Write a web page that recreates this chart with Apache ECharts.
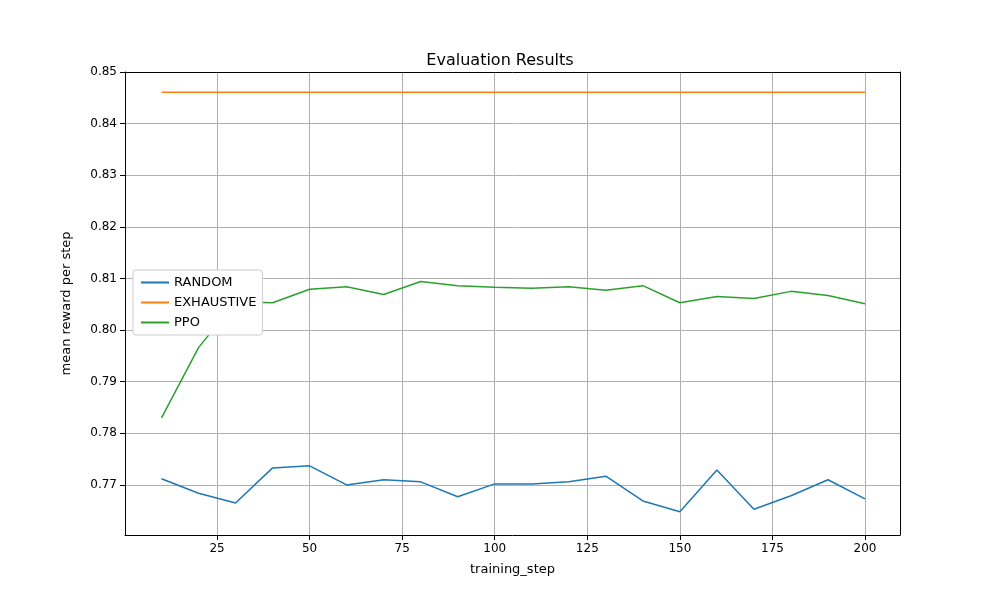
<!DOCTYPE html><html><head><meta charset="utf-8"><script src="https://cdn.jsdelivr.net/npm/echarts@6/dist/echarts.min.js"></script></head><body style="margin:0"><div id="c" style="width:1000px;height:600px"></div><script>
const steps=[10,20,30,40,50,60,70,80,90,100,110,120,130,140,150,160,170,180,190,200];
const randomVals=[0.7712,0.7684,0.7665,0.7733,0.7737,0.7700,0.7710,0.7706,0.7677,0.7702,0.7702,0.7706,0.7717,0.7669,0.7648,0.7729,0.7653,0.7679,0.7710,0.7673];
const exhaustiveVals=steps.map(()=>0.8461);
const ppoVals=[0.7830,0.7966,0.8055,0.8053,0.8079,0.8084,0.8069,0.8094,0.8086,0.8083,0.8081,0.8084,0.8077,0.8086,0.8053,0.8065,0.8061,0.8075,0.8067,0.8051];
const xTicks=[25,50,75,100,125,150,175,200];
const yTicks=[0.77,0.78,0.79,0.80,0.81,0.82,0.83,0.84,0.85];
const pair=v=>steps.map((s,i)=>[s,v[i]]);
const ff='DejaVu Sans';
const mk=(n,d,c)=>({name:n,type:'line',data:pair(d),showSymbol:false,lineStyle:{width:1.5,color:c},itemStyle:{color:c}});
echarts.init(document.getElementById('c')).setOption({
animation:false,textStyle:{fontFamily:ff},
title:{text:'Evaluation Results',left:'center',top:48,textStyle:{fontSize:16,fontWeight:'normal',color:'#000',fontFamily:ff}},
grid:{left:125,right:100,top:72,bottom:65},
legend:{orient:'vertical',left:133,top:270,backgroundColor:'#fff',borderColor:'#ccc',borderWidth:1,borderRadius:3,padding:[6,6,6,8],itemGap:7,itemWidth:28,itemHeight:2,icon:'rect',textStyle:{fontSize:13,color:'#000'},data:['RANDOM','EXHAUSTIVE','PPO']},
xAxis:[{type:'value',min:0.14,max:209.45,name:'training_step',nameLocation:'middle',nameGap:28,nameTextStyle:{fontSize:13,color:'#000'},
axisLine:{onZero:false,lineStyle:{color:'#000'}},axisTick:{customValues:xTicks,lineStyle:{color:'#000'}},axisLabel:{customValues:xTicks,color:'#000',fontSize:12},splitLine:{show:true,lineStyle:{color:'#b0b0b0'}}},
{type:'value',position:'top',min:0.14,max:209.45,axisLine:{onZero:false,lineStyle:{color:'#000'}},axisTick:{show:false},axisLabel:{show:false},splitLine:{show:false}}],
yAxis:[{type:'value',min:0.7603,max:0.85,name:'mean reward per step',nameLocation:'middle',nameGap:52,nameTextStyle:{fontSize:13,color:'#000'},
axisLine:{show:true,lineStyle:{color:'#000'}},axisTick:{show:true,customValues:yTicks,lineStyle:{color:'#000'}},axisLabel:{customValues:yTicks,color:'#000',fontSize:12,formatter:v=>v.toFixed(2)},splitLine:{show:true,lineStyle:{color:'#b0b0b0'}}},
{type:'value',position:'right',min:0.7603,max:0.85,axisLine:{show:true,onZero:false,lineStyle:{color:'#000'}},axisTick:{show:false},axisLabel:{show:false},splitLine:{show:false}}],
series:[mk('RANDOM',randomVals,'#1f77b4'),mk('EXHAUSTIVE',exhaustiveVals,'#ff7f0e'),mk('PPO',ppoVals,'#2ca02c')]
});
</script></body></html>
